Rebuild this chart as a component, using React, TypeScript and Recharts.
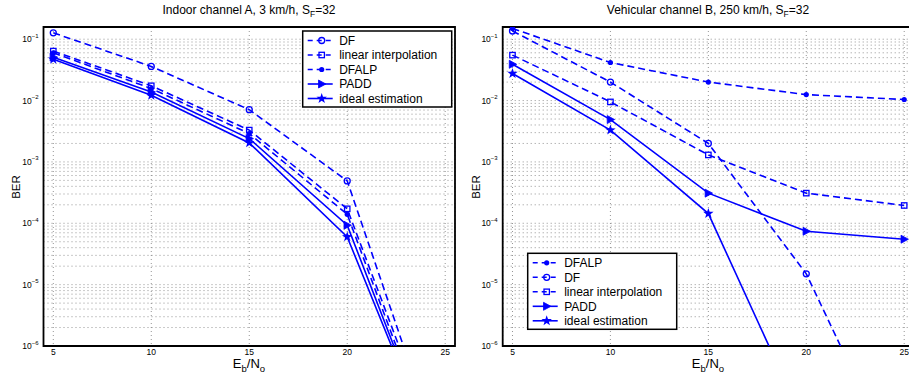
import React from "react"
import { CartesianGrid, Line, LineChart, ReferenceArea, XAxis, YAxis } from "recharts"

const font = "'Liberation Sans', Arial, Helvetica, sans-serif"
const blue = "#0000ff"

const snr = [5, 10, 15, 20, 25]
const xTicks = [5, 10, 15, 20, 25]
const decades = [-6, -5, -4, -3, -2, -1]
const yTop = 0.158

// Indoor channel A, 3 km/h
const indoorDF = [0.127, 0.036, 0.0071, 4.9e-4, 1e-8]
const indoorLin = [0.064, 0.0174, 0.0033, 1.72e-4, 1e-8]
const indoorDFALP = [0.06, 0.0157, 0.0029, 1.4e-4, 7e-9]
const indoorPADD = [0.051, 0.0138, 0.0024, 9.3e-5, 6.8e-9]
const indoorIdeal = [0.047, 0.0122, 0.00204, 6e-5, 7e-9]

// Vehicular channel B, 250 km/h
const vehDFALP = [0.15, 0.0417, 0.02, 0.0125, 0.0104]
const vehDF = [0.136, 0.02, 0.002, 1.5e-5, 6.5e-9]
const vehLin = [0.055, 0.0095, 0.0013, 3.1e-4, 1.95e-4]
const vehPADD = [0.039, 0.0049, 3.1e-4, 7.4e-5, 5.5e-5]
const vehIdeal = [0.0276, 0.0033, 1.44e-4, 4.7e-8, 1e-10]

const yTicks: number[] = []
decades.forEach((d) => {
  for (let m = 1; m <= 9; m++) {
    const v = m * Math.pow(10, d)
    if (v <= yTop) yTicks.push(v)
  }
})

type Series = { key: string; name: string; values: number[]; marker: string; dashed: boolean }

const indoorSeries: Series[] = [
  { key: "df", name: "DF", values: indoorDF, marker: "circle", dashed: true },
  { key: "lin", name: "linear interpolation", values: indoorLin, marker: "square", dashed: true },
  { key: "dfalp", name: "DFALP", values: indoorDFALP, marker: "dot", dashed: true },
  { key: "padd", name: "PADD", values: indoorPADD, marker: "triangle", dashed: false },
  { key: "ideal", name: "ideal estimation", values: indoorIdeal, marker: "star", dashed: false },
]

const vehSeries: Series[] = [
  { key: "dfalp", name: "DFALP", values: vehDFALP, marker: "dot", dashed: true },
  { key: "df", name: "DF", values: vehDF, marker: "circle", dashed: true },
  { key: "lin", name: "linear interpolation", values: vehLin, marker: "square", dashed: true },
  { key: "padd", name: "PADD", values: vehPADD, marker: "triangle", dashed: false },
  { key: "ideal", name: "ideal estimation", values: vehIdeal, marker: "star", dashed: false },
]

const toRows = (series: Series[]) =>
  snr.map((x, i) => {
    const row: any = { x }
    series.forEach((s) => (row[s.key] = s.values[i]))
    return row
  })

function Marker({ kind, cx, cy }: { kind: string; cx: number; cy: number }) {
  if (cx == null || cy == null) return null
  switch (kind) {
    case "circle":
      return <circle cx={cx} cy={cy} r={3} fill="none" stroke={blue} strokeWidth={1.3} />
    case "square":
      return <rect x={cx - 2.7} y={cy - 2.7} width={5.4} height={5.4} fill="none" stroke={blue} strokeWidth={1.3} />
    case "dot":
      return <circle cx={cx} cy={cy} r={2.6} fill={blue} />
    case "triangle":
      return (
        <path
          d={`M${cx - 3.2},${cy - 4}L${cx + 4.2},${cy}L${cx - 3.2},${cy + 4}Z`}
          fill={blue}
          stroke={blue}
          strokeWidth={0.8}
        />
      )
    case "star": {
      let d = ""
      for (let k = 0; k < 10; k++) {
        const r = k % 2 === 0 ? 5.5 : 2.2
        const a = -Math.PI / 2 + (k * Math.PI) / 5
        d += `${k === 0 ? "M" : "L"}${cx + r * Math.cos(a)},${cy + r * Math.sin(a)}`
      }
      return <path d={d + "Z"} fill={blue} />
    }
  }
  return null
}

function YTick({ x, y, payload }: any) {
  const lg = Math.log10(payload.value)
  const e = Math.round(lg)
  if (Math.abs(lg - e) > 1e-6) return <g />
  return (
    <text x={x} y={y + 3} textAnchor="end" fontSize={8.5} fontFamily={font} fill="#000">
      10
      <tspan dy={-4.5} fontSize={6}>{`\u2212${-e}`}</tspan>
    </text>
  )
}

function Panel({ series, left, width, marginLeft, marginRight }: any) {
  const data = toRows(series)
  return (
    <div style={{ position: "absolute", left, top: 0 }}>
      <LineChart width={width} height={381} data={data} margin={{ top: 27, right: marginRight, bottom: 15, left: marginLeft }}>
        <CartesianGrid stroke="#7a7a7a" strokeDasharray="1 3" strokeWidth={0.8} />
        <XAxis
          dataKey="x"
          type="number"
          domain={[4.5, 25.5]}
          ticks={xTicks}
          interval={0}
          allowDataOverflow
          axisLine={false}
          tickLine={false}
          tickSize={1}
          tickMargin={2}
          height={20}
          tick={{ fontSize: 8.5, fill: "#000", fontFamily: font }}
        />
        <YAxis
          type="number"
          scale="log"
          domain={[1e-6, yTop]}
          ticks={yTicks}
          interval={0}
          allowDataOverflow
          width={35.5}
          axisLine={false}
          tickLine={false}
          tickSize={3}
          tickMargin={2}
          tick={<YTick />}
        />
        <ReferenceArea x1={4.5} x2={25.5} y1={1e-6} y2={yTop} fill="none" stroke="#000" strokeWidth={1.8} />
        {series.map((s: Series) => (
          <Line
            key={s.key}
            dataKey={s.key}
            stroke={blue}
            strokeWidth={1.6}
            strokeDasharray={s.dashed ? "7 4" : undefined}
            dot={(p: any) => <Marker key={`${s.key}-${p.index}`} kind={s.marker} cx={p.cx} cy={p.cy} />}
            activeDot={false}
            isAnimationActive={false}
          />
        ))}
      </LineChart>
    </div>
  )
}

function LegendBox({ series, x, y, w, h }: { series: Series[]; x: number; y: number; w: number; h: number }) {
  return (
    <g>
      <rect x={x} y={y} width={w} height={h} fill="#fff" stroke="#000" strokeWidth={1.5} />
      {series.map((s, i) => {
        const cy = y + 9.5 + i * 14.5
        return (
          <g key={s.key}>
            <line
              x1={x + 5}
              x2={x + 30}
              y1={cy}
              y2={cy}
              stroke={blue}
              strokeWidth={1.6}
              strokeDasharray={s.dashed ? "5 4" : undefined}
            />
            <Marker kind={s.marker} cx={x + 19} cy={cy} />
            <text x={x + 36.5} y={cy + 4.3} fontSize={12} fontFamily={font} fill="#000">
              {s.name}
            </text>
          </g>
        )
      })}
    </g>
  )
}

function Title({ x, text }: { x: number; text: string }) {
  return (
    <text x={x} y={13.5} textAnchor="middle" fontSize={12} fontFamily={font} fill="#000">
      {text}, S<tspan dy={3} fontSize={8.5}>F</tspan>
      <tspan dy={-3}>=32</tspan>
    </text>
  )
}

function XLabel({ x }: { x: number }) {
  return (
    <text x={x} y={368} textAnchor="middle" fontSize={13} fontFamily={font} fill="#000">
      E<tspan dy={4} fontSize={9.5}>b</tspan>
      <tspan dy={-4}>/N</tspan>
      <tspan dy={4} fontSize={9.5}>o</tspan>
    </text>
  )
}

function YLabel({ x }: { x: number }) {
  return (
    <text x={x} y={187} transform={`rotate(-90 ${x} 187)`} textAnchor="middle" fontSize={11.5} fontFamily={font} fill="#000">
      BER
    </text>
  )
}

export default function App() {
  return (
    <div style={{ position: "absolute", left: 0, top: 0, width: 909, height: 381, overflow: "hidden", background: "#fff" }}>
      <Panel series={indoorSeries} left={0} width={460} marginLeft={8} marginRight={5} />
      <Panel series={vehSeries} left={455} width={465} marginLeft={12.2} marginRight={6} />
      <svg width={909} height={381} style={{ position: "absolute", left: 0, top: 0, pointerEvents: "none" }}>
        <Title x={249} text="Indoor channel A, 3 km/h" />
        <Title x={708} text="Vehicular channel B, 250 km/h" />
        <XLabel x={249} />
        <XLabel x={708} />
        <YLabel x={20} />
        <YLabel x={480} />
        <LegendBox series={indoorSeries} x={302.7} y={31} w={149} h={76} />
        <LegendBox series={vehSeries} x={527.7} y={253.3} w={149} h={76} />
      </svg>
    </div>
  )
}
